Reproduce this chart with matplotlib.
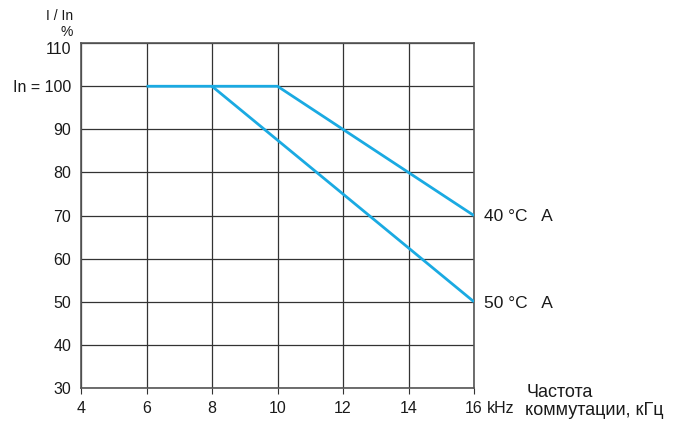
import matplotlib
matplotlib.use("Agg")
import matplotlib.pyplot as plt
import matplotlib.transforms as mtransforms

plt.rcParams['font.family'] = ['Liberation Sans', 'DejaVu Sans']

freq_40 = [6, 10, 16]
curr_40 = [100, 100, 70]
freq_50 = [8, 16]
curr_50 = [100, 50]
x_ticks = [4, 6, 8, 10, 12, 14, 16]
x_labels = ['4', '6', '8', '10', '12', '14', '16']
y_ticks = [30, 40, 50, 60, 70, 80, 90, 100, 110]
y_labels = ['30', '40', '50', '60', '70', '80', '90', 'In = 100', '110']
series_labels = ['40 °C   A', '50 °C   A']

color = '#1AAAE2'
grid_c = '#333333'
text_c = '#1a1a1a'

fig = plt.figure(figsize=(6.83, 4.23), dpi=100)
ax = fig.add_axes([0.1186, 0.0827, 0.5754, 0.8153])

ax.set_xlim(4, 16)
ax.set_ylim(30, 110)
ax.set_xticks(x_ticks)
ax.set_xticklabels(x_labels)
ax.set_yticks(y_ticks)
ax.set_yticklabels(y_labels)
ax.grid(True, color=grid_c, linewidth=0.9)
for s in ax.spines.values():
    s.set_color('#555555')
    s.set_linewidth(1.2)
ax.tick_params(axis='y', length=0, pad=7, labelsize=11.5, labelcolor=text_c)
ax.tick_params(axis='x', length=4, color=grid_c, pad=5, labelsize=11.5, direction='out', labelcolor=text_c)

# top tick label sits slightly below the top border in the reference
top_lbl = ax.get_yticklabels()[-1]
top_lbl.set_transform(top_lbl.get_transform() + mtransforms.ScaledTranslation(0, -5 / 100, fig.dpi_scale_trans))

ax.plot(freq_40, curr_40, color=color, linewidth=2, solid_capstyle='butt', zorder=3)
ax.plot(freq_50, curr_50, color=color, linewidth=2, solid_capstyle='butt', zorder=3)

ax.annotate(series_labels[0], xy=(16, curr_40[-1]), xytext=(7, -1), textcoords='offset points',
            va='center', ha='left', fontsize=12.5, color=text_c)
ax.annotate(series_labels[1], xy=(16, curr_50[-1]), xytext=(7, -1), textcoords='offset points',
            va='center', ha='left', fontsize=12.5, color=text_c)

fig.text(73 / 683, 1 - 20 / 423, 'I / In', ha='right', va='baseline', fontsize=10, color=text_c)
fig.text(73 / 683, 1 - 36 / 423, '%', ha='right', va='baseline', fontsize=10, color=text_c)

fig.text(487 / 683, 1 - 413 / 423, 'kHz', ha='left', va='baseline', fontsize=11.5, color=text_c)
fig.text(527 / 683, 1 - 397 / 423, 'Частота', ha='left', va='baseline', fontsize=13, color=text_c)
fig.text(525 / 683, 1 - 415 / 423, 'коммутации, кГц', ha='left', va='baseline', fontsize=13, color=text_c)

fig.savefig('out.png', dpi=100)
